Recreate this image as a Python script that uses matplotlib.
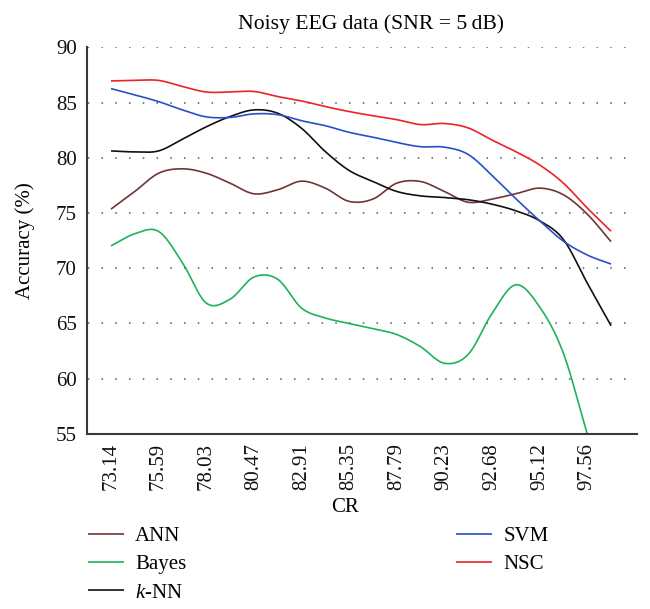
import numpy as np
import matplotlib
matplotlib.use("Agg")
import matplotlib.pyplot as plt
from matplotlib.transforms import ScaledTranslation

plt.rcParams['font.family'] = ['Liberation Serif', 'DejaVu Serif']
plt.rcParams['mathtext.fontset'] = 'custom'
plt.rcParams['mathtext.rm'] = 'Liberation Serif'
plt.rcParams['mathtext.it'] = 'Liberation Serif:italic'

# ---- data ----
cr = [73.14, 74.36, 75.59, 76.81, 78.03, 79.25, 80.47, 81.69, 82.91, 84.13, 85.35,
      86.57, 87.79, 89.01, 90.23, 91.46, 92.68, 93.90, 95.12, 96.34, 97.56, 98.78]
tick_labels = ["73.14", "75.59", "78.03", "80.47", "82.91", "85.35",
               "87.79", "90.23", "92.68", "95.12", "97.56"]

ann = [75.35, 76.95, 78.6, 79.0, 78.6, 77.7, 76.74, 77.1, 77.88, 77.25, 76.05,
       76.26, 77.7, 77.85, 76.95, 75.97, 76.26, 76.74, 77.25, 76.65, 74.9, 72.4]
bayes = [72.03, 73.12, 73.33, 70.5, 66.85, 67.2, 69.2, 69.0, 66.4, 65.5, 65.0,
         64.53, 64.0, 62.9, 61.4, 62.2, 65.9, 68.5, 66.5, 62.3, 55.0, 48.0]
knn = [80.62, 80.53, 80.62, 81.68, 82.8, 83.73, 84.33, 84.03, 82.67, 80.56, 78.85,
       77.85, 76.95, 76.55, 76.4, 76.2, 75.8, 75.2, 74.3, 72.6, 68.66, 64.8]
svm = [86.26, 85.69, 85.08, 84.33, 83.7, 83.65, 83.97, 83.9, 83.35, 82.9, 82.3,
       81.86, 81.38, 81.0, 80.96, 80.3, 78.4, 76.3, 74.3, 72.45, 71.2, 70.38]
nsc = [86.95, 87.0, 87.0, 86.45, 85.95, 85.95, 86.0, 85.54, 85.14, 84.63, 84.18,
       83.8, 83.45, 83.0, 83.1, 82.7, 81.6, 80.55, 79.35, 77.7, 75.45, 73.35]

series = [("ANN", ann, "#6e3535"), ("Bayes", bayes, "#1fb25a"),
          ("$k$-NN", knn, "#111111"), ("SVM", svm, "#2a4fc8"), ("NSC", nsc, "#ec2228")]


def smooth(y, n=24):
    """Catmull-Rom style smoothing (like spreadsheet 'smoothed line')."""
    y = np.asarray(y, float)
    k = len(y)
    m = np.zeros(k)
    m[1:-1] = (y[2:] - y[:-2]) / 2.0
    m[0] = y[1] - y[0]
    m[-1] = y[-1] - y[-2]
    xs, ys = [], []
    t = np.linspace(0, 1, n, endpoint=False)
    h00 = 2 * t**3 - 3 * t**2 + 1
    h10 = t**3 - 2 * t**2 + t
    h01 = -2 * t**3 + 3 * t**2
    h11 = t**3 - t**2
    for i in range(k - 1):
        xs.append(i + t)
        ys.append(h00 * y[i] + h10 * m[i] + h01 * y[i + 1] + h11 * m[i + 1])
    xs.append(np.array([k - 1.0]))
    ys.append(np.array([y[-1]]))
    return np.concatenate(xs), np.concatenate(ys)


fig = plt.figure(figsize=(6.5, 6.09), dpi=100)
ax = fig.add_axes([0.1334, 0.2874, 0.8466, 0.635])

idx = np.arange(len(cr))
handles = []
for name, vals, col in series:
    xs, ys = smooth(vals)
    h, = ax.plot(xs, ys, color=col, lw=1.2, label=name, solid_capstyle='butt')
    handles.append(h)

ax.set_xlim(-1.02, 22.09)
ax.set_ylim(55, 90)
ax.set_yticks([55, 60, 65, 70, 75, 80, 85, 90])
ax.set_xticks(idx[::2])
ax.set_xticklabels(tick_labels, rotation=90, fontsize=15)
for lab in ax.get_xticklabels():
    lab.set_transform(lab.get_transform() + ScaledTranslation(-4 / 100, 0, fig.dpi_scale_trans))
ax.tick_params(axis='both', length=0, labelsize=15, colors='#111111')
ax.tick_params(axis='y', pad=7)
ax.tick_params(axis='x', pad=6.5)

for y in [60, 65, 70, 75, 80, 85, 90]:
    ax.axhline(y, color='#555555', lw=1.1, linestyle=(8.5, (1, 8)), zorder=0)

for s in ['top', 'right']:
    ax.spines[s].set_visible(False)
for s in ['left', 'bottom']:
    ax.spines[s].set_color('#3a3a3a')
    ax.spines[s].set_linewidth(1.5)

fig.text(371 / 650, 1 - 29.5 / 609, "Noisy EEG data (SNR = 5\u2009dB)", ha='center',
         va='baseline', fontsize=15.6, family=['Liberation Serif', 'DejaVu Serif'])
fig.text(25 / 650, 1 - 241 / 609, "Accuracy (%)", rotation=90, ha='center', va='center',
         fontsize=15)
fig.text(345 / 650, 1 - 508 / 609, "CR", ha='center', va='center', fontsize=15)

leg_kw = dict(loc='upper left', frameon=False, fontsize=15, borderpad=0,
              handlelength=1.7, handletextpad=0.55, labelspacing=0.42)
leg1 = fig.legend(handles[:3], [s[0] for s in series[:3]],
                  bbox_to_anchor=(78 / 650, 1 - 516 / 609), **leg_kw)
leg2 = fig.legend(handles[3:], [s[0] for s in series[3:]],
                  bbox_to_anchor=(446 / 650, 1 - 516 / 609), **leg_kw)

fig.savefig("out.png", dpi=100)
